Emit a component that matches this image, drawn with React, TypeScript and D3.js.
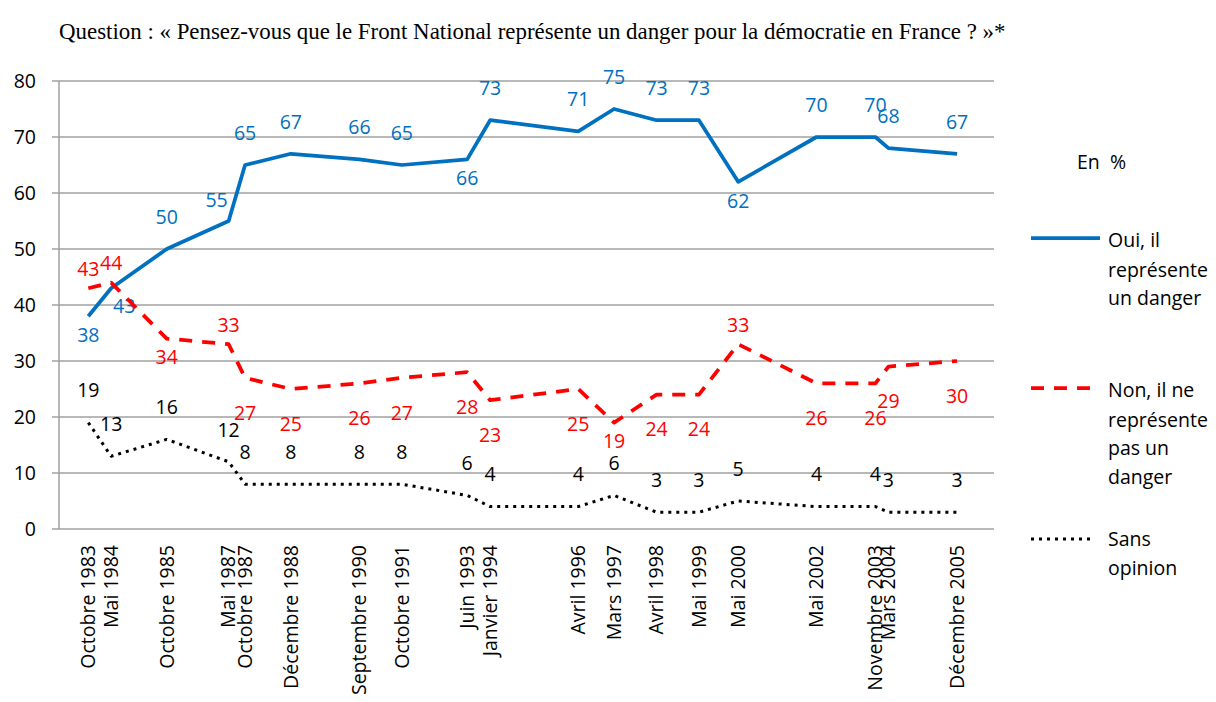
import React from 'react';
import * as d3 from 'd3';

const width = 1216;
const height = 702;

// survey dates and their axis labels
const dates = ['1983-10', '1984-05', '1985-10', '1987-05', '1987-10', '1988-12', '1990-09', '1991-10', '1993-06', '1994-01',
  '1996-04', '1997-03', '1998-04', '1999-05', '2000-05', '2002-05', '2003-11', '2004-03', '2005-12'];
const dateLabels = ['Octobre 1983', 'Mai 1984', 'Octobre 1985', 'Mai 1987', 'Octobre 1987', 'Décembre 1988', 'Septembre 1990',
  'Octobre 1991', 'Juin 1993', 'Janvier 1994', 'Avril 1996', 'Mars 1997', 'Avril 1998', 'Mai 1999', 'Mai 2000', 'Mai 2002',
  'Novembre 2003', 'Mars 2004', 'Décembre 2005'];

const oui = [38, 43, 50, 55, 65, 67, 66, 65, 66, 73, 71, 75, 73, 73, 62, 70, 70, 68, 67];
const non = [43, 44, 34, 33, 27, 25, 26, 27, 28, 23, 25, 19, 24, 24, 33, 26, 26, 29, 30];
const sans = [19, 13, 16, 12, 8, 8, 8, 8, 6, 4, 4, 6, 3, 3, 5, 4, 4, 3, 3];

const yTicks = [0, 10, 20, 30, 40, 50, 60, 70, 80];

// where each data label sits relative to its point
const ouiPlace = 'brAlAAAAbAAAAAbAAAA';
const nonPlace = 'aabaBBBBBBBbBBaBBBB';
const sansPlace = 'AAAAAAAAAAAAAAAAAAA';

const offsets: Record<string, [number, number]> = {
  A: [0, -32], a: [0, -19], B: [0, 35], b: [0, 19], r: [13, 18], l: [-12, -21]
};

const parse = d3.timeParse('%Y-%m');
const when = dates.map(d => parse(d) as Date);

const x = d3.scaleTime()
  .domain([new Date(1983, 0, 1), new Date(2006, 10, 10)])
  .range([59, 994]);
const y = d3.scaleLinear().domain([0, 80]).range([529, 81]);

const font = '"Open Sans", "Noto Sans", sans-serif';
const fs = 19.5;

const series = [
  { values: oui, place: ouiPlace, color: '#0070C0', dash: undefined, w: 3.75 },
  { values: non, place: nonPlace, color: '#FF0000', dash: '13 10', w: 3.75 },
  { values: sans, place: sansPlace, color: '#000000', dash: '3 5', w: 3 },
];

const line = d3.line<number>()
  .x((d, i) => x(when[i]))
  .y(d => y(d));

export default function App() {
  return (
    <svg width={width} height={height} style={{ position: 'absolute', left: 0, top: 0, background: '#fff' }}>
      <text x={59} y={39} fontFamily='"Liberation Serif", "Times New Roman", serif' fontSize={22.9} fill="#000">
        Question : « Pensez-vous que le Front National représente un danger pour la démocratie en France ? »*
      </text>

      {/* gridlines */}
      {yTicks.map(t => (
        <g key={t}>
          <line x1={52} x2={994} y1={y(t)} y2={y(t)} stroke="#A0A0A0" strokeWidth={1.5} />
          <text x={36} y={y(t)} dy="0.35em" textAnchor="end" fontFamily={font} fontSize={fs}>{t}</text>
        </g>
      ))}
      <line x1={59} x2={59} y1={y(80)} y2={y(0)} stroke="#A0A0A0" strokeWidth={1.5} />

      {/* x labels */}
      {dateLabels.map((l, i) => (
        <text key={l} transform={`translate(${x(when[i])},545) rotate(-90)`} dy="0.35em" textAnchor="end"
          fontFamily={font} fontSize={fs}>{l}</text>
      ))}

      {series.map((s, k) => (
        <g key={k}>
          <path d={line(s.values) || ''} fill="none" stroke={s.color} strokeWidth={s.w}
            strokeDasharray={s.dash} strokeLinejoin="round" />
          {s.values.map((v, i) => {
            const [dx, dy] = offsets[s.place[i]];
            return (
              <text key={i} x={x(when[i]) + dx} y={y(v) + dy} dy="0.35em" textAnchor="middle"
                fontFamily={font} fontSize={fs} fill={s.color}>{v}</text>
            );
          })}
        </g>
      ))}

      {/* legend */}
      <g fontFamily={font} fontSize={fs}>
        <text x={1077} y={162} dy="0.35em" xmlSpace="preserve" style={{ whiteSpace: 'pre' }}>En  %</text>
        <line x1={1031} x2={1100} y1={238} y2={238} stroke="#0070C0" strokeWidth={3.75} />
        <text x={1108} y={240} dy="0.35em">Oui, il</text>
        <text x={1108} y={270} dy="0.35em">représente</text>
        <text x={1108} y={298} dy="0.35em">un danger</text>
        <line x1={1031} x2={1100} y1={388} y2={388} stroke="#FF0000" strokeWidth={3.75} strokeDasharray="13 10" />
        <text x={1108} y={390} dy="0.35em">Non, il ne</text>
        <text x={1108} y={420} dy="0.35em">représente</text>
        <text x={1108} y={448} dy="0.35em">pas un</text>
        <text x={1108} y={477} dy="0.35em">danger</text>
        <line x1={1031} x2={1094} y1={539} y2={539} stroke="#000" strokeWidth={3} strokeDasharray="3 5" />
        <text x={1108} y={539} dy="0.35em">Sans</text>
        <text x={1108} y={568} dy="0.35em">opinion</text>
      </g>
    </svg>
  );
}
